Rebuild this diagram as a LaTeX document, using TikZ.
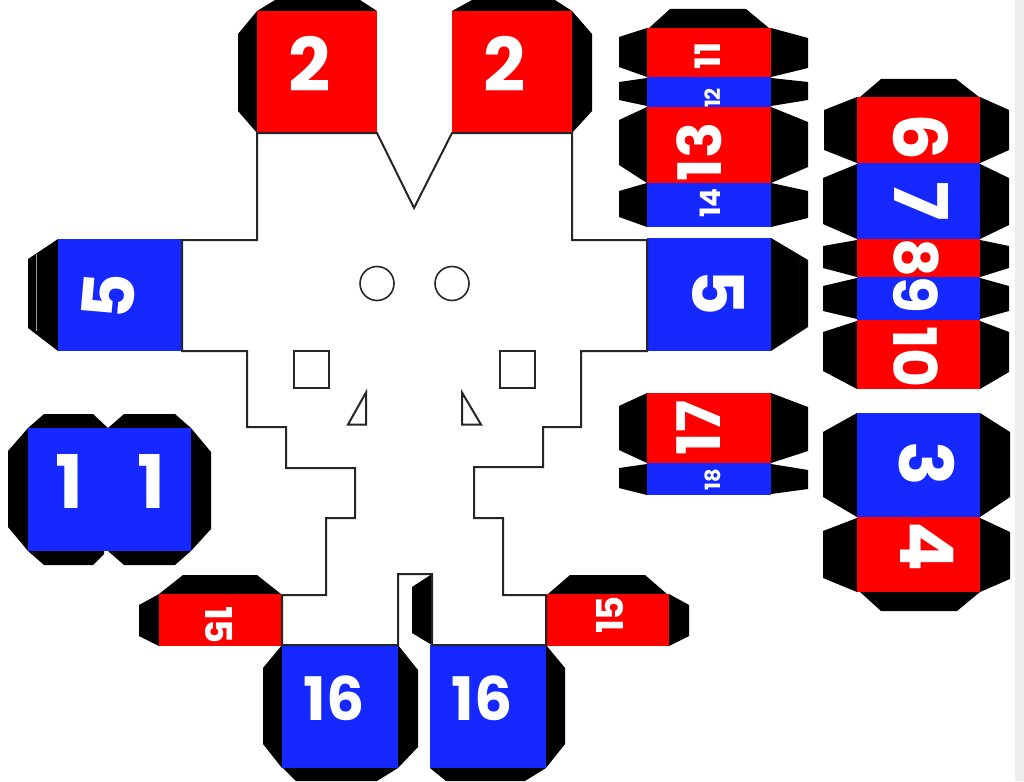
\documentclass[tikz,border=0pt]{standalone}
\usepackage{fontspec}
\setmainfont{Poppins}
\definecolor{pred}{HTML}{FF0000}
\definecolor{pblue}{HTML}{1428FF}
\definecolor{strip}{HTML}{EDEDED}
\tikzset{
  tabshape/.style={fill=black,draw=none},
  redpanel/.style={fill=pred,draw=none},
  bluepanel/.style={fill=pblue,draw=none},
  cutline/.style={draw=black!85,line width=2pt,line join=miter,fill=none},
  holeline/.style={draw=black!85,line width=1.6pt,fill=none},
  lab/.style={text=white,inner sep=0pt,font=\bfseries\fontsize{#1}{#1}\selectfont},
}
\newcommand{\tabpoly}[1]{\fill[tabshape] #1 -- cycle;}
\begin{document}
\begin{tikzpicture}[x=1pt,y=-1pt]
\useasboundingbox (0,0) rectangle (1024,781);
\fill[white] (0,0) rectangle (1024,781);
\fill[strip] (1015,0) rectangle (1024,781);
% ---- tabs
% strip 11-14
\tabpoly{(649,28) -- (670,9) -- (746,9) -- (769,28)}
\tabpoly{(647,28) -- (619,37) -- (619,67) -- (647,77)}
\tabpoly{(771,28) -- (808,38) -- (808,68) -- (771,77)}
\tabpoly{(647,78) -- (619,82) -- (619,100) -- (647,106)}
\tabpoly{(771,78) -- (808,82) -- (808,100) -- (771,106)}
\tabpoly{(647,107) -- (619,120) -- (619,165) -- (647,183)}
\tabpoly{(771,107) -- (808,122) -- (808,167) -- (771,183)}
\tabpoly{(647,183) -- (619,191) -- (619,217) -- (647,227)}
\tabpoly{(771,183) -- (808,191) -- (808,218) -- (771,227)}
% strip 6-10
\tabpoly{(860,97) -- (881,79) -- (956,79) -- (979,97)}
\tabpoly{(857,97) -- (824,110) -- (824,150) -- (857,163)}
\tabpoly{(980,97) -- (1009,110) -- (1009,150) -- (980,163)}
\tabpoly{(857,164) -- (823,178) -- (823,224) -- (857,239)}
\tabpoly{(980,164) -- (1009,178) -- (1009,225) -- (980,239)}
\tabpoly{(857,240) -- (823,246) -- (823,268) -- (857,277)}
\tabpoly{(980,240) -- (1009,246) -- (1009,268) -- (980,277)}
\tabpoly{(857,278) -- (823,286) -- (823,311) -- (857,319)}
\tabpoly{(980,278) -- (1009,286) -- (1009,311) -- (980,319)}
\tabpoly{(857,321) -- (823,332) -- (823,371) -- (857,389)}
\tabpoly{(980,321) -- (1009,332) -- (1009,372) -- (980,389)}
% 5 right, 5 left
\tabpoly{(771,238) -- (808,260) -- (808,327) -- (771,351)}
\tabpoly{(58,239) -- (28,259) -- (28,328) -- (58,351)}
\draw[white!60!black,line width=0.4pt] (36,254) -- (36,331);
\draw[white!18!black,line width=0.4pt] (799,258) -- (799,331) -- (783,343);
% 17-18
\tabpoly{(647,393) -- (619,406) -- (619,450) -- (647,463)}
\tabpoly{(771,393) -- (808,407) -- (808,451) -- (771,463)}
\tabpoly{(647,464) -- (619,468) -- (619,488) -- (647,495)}
\tabpoly{(771,464) -- (808,470) -- (808,489) -- (771,494)}
% 3-4
\tabpoly{(857,413) -- (823,432) -- (823,497) -- (857,517)}
\tabpoly{(980,413) -- (1010,432) -- (1010,497) -- (980,517)}
\tabpoly{(857,518) -- (823,531) -- (823,578) -- (857,592)}
\tabpoly{(980,518) -- (1010,532) -- (1010,579) -- (980,592)}
\tabpoly{(860,592) -- (881,611) -- (957,611) -- (980,592)}
% 1 1
\tabpoly{(28,428) -- (44,414) -- (93,414) -- (108,428)}
\tabpoly{(108,428) -- (124,414) -- (175,414) -- (191,428)}
\tabpoly{(28,428) -- (8,451) -- (8,527) -- (28,551)}
\tabpoly{(191,428) -- (211,452) -- (211,529) -- (191,551)}
\tabpoly{(28,551) -- (44,565) -- (93,565) -- (104,554) -- (104,551)}
\tabpoly{(108,551) -- (124,565) -- (175,565) -- (191,551)}
% 2 2
\tabpoly{(257,11) -- (275,0) -- (360,0) -- (377,11)}
\tabpoly{(257,11) -- (238,34) -- (238,111) -- (257,133)}
\tabpoly{(452,11) -- (472,0) -- (555,0) -- (572,11)}
\tabpoly{(572,11) -- (592,34) -- (592,111) -- (572,133)}
% 15 15
\tabpoly{(159,594) -- (183,575) -- (257,575) -- (281,594)}
\tabpoly{(159,594) -- (139,605) -- (139,636) -- (159,646)}
\tabpoly{(548,594) -- (570,575) -- (645,575) -- (667,594)}
\tabpoly{(669,594) -- (689,605) -- (689,636) -- (669,646)}
% 16 16
\tabpoly{(282,645) -- (263,668) -- (263,744) -- (282,768)}
\tabpoly{(398,645) -- (418,670) -- (418,747) -- (398,768)}
\tabpoly{(283,768) -- (296,781) -- (377,781) -- (398,768)}
\tabpoly{(546,645) -- (565,668) -- (565,744) -- (546,768)}
\tabpoly{(430,768) -- (446,781) -- (525,781) -- (546,768)}
\tabpoly{(432,574) -- (412,587) -- (412,633) -- (432,645)}
% ---- panels
\fill[redpanel] (647,28) rectangle (771,77);
\fill[bluepanel] (647,77) rectangle (771,107);
\node[lab=21,rotate=90] (n12) at (712.5,98) {12};
\fill[redpanel] (647,107) rectangle (771,183);
\fill[bluepanel] (647,183) rectangle (771,227);
\fill[bluepanel] (647,238) rectangle (771,351);
\fill[bluepanel] (58,239) rectangle (182,351);
\fill[redpanel] (857,97) rectangle (980,163);
\fill[bluepanel] (857,163) rectangle (980,239);
\fill[redpanel] (857,239) rectangle (980,277);
\fill[bluepanel] (857,277) rectangle (980,320);
\fill[redpanel] (857,320) rectangle (980,389);
\fill[redpanel] (647,393) rectangle (771,463);
\fill[bluepanel] (647,463) rectangle (771,495);
\fill[bluepanel] (857,413) rectangle (980,517);
\fill[redpanel] (857,517) rectangle (980,592);
\fill[bluepanel] (28,428) rectangle (191,551);
\fill[redpanel] (257,11) rectangle (377,133);
\fill[redpanel] (452,11) rectangle (572,133);
\fill[redpanel] (159,594) rectangle (282,646);
\fill[redpanel] (546,594) rectangle (669,646);
\fill[bluepanel] (282,645) rectangle (398,768);
\fill[bluepanel] (430,645) rectangle (546,768);
% ---- outline of the body
\draw[cutline] (257,133) -- (377,133) -- (414,208) -- (452,133) -- (572,133)
  -- (572,240) -- (647,240) -- (647,351) -- (581,351) -- (581,427) -- (543,427)
  -- (543,467) -- (474,467) -- (474,518) -- (503,518) -- (503,595) -- (546,595)
  -- (546,645) -- (432,645) -- (432,574) -- (398,574) -- (398,645) -- (282,645)
  -- (282,595) -- (326,595) -- (326,518) -- (355,518) -- (355,468) -- (286,468)
  -- (286,427) -- (247,427) -- (247,351) -- (182,351) -- (182,240) -- (257,240) -- cycle;
% ---- holes
\node[holeline,circle,minimum size=34pt,inner sep=0pt] (holeL) at (377,283.5) {};
\node[holeline,circle,minimum size=34pt,inner sep=0pt] (holeR) at (452,283.5) {};
\draw[cutline] (293.5,350.5) rectangle (329,387.5);
\draw[cutline] (500,350.5) rectangle (535,387.5);
\draw[cutline] (348,424.5) -- (366,392.5) -- (366,424.5) -- cycle;
\draw[cutline] (462,392.5) -- (481,424.5) -- (462,424.5) -- cycle;
% ---- numbers
\node[lab=35,rotate=90] (n11) at (708,56) {11};
\node[lab=60,rotate=90] (n13) at (699,152) {13};
\node[lab=28,rotate=90] (n14) at (710,203) {14};
\node[lab=71,rotate=-90] (n5r) at (718,293) {5};
\node[lab=71,rotate=85] (n5l) at (109,296) {5};
\node[lab=74,rotate=-90] (n6) at (921,137.5) {6};
\node[lab=74,rotate=-90] (n7) at (921,201) {7};
\node[lab=60,rotate=-90] (n8) at (916,258) {8};
\node[lab=60,rotate=-90] (n9) at (916,295) {9};
\node[lab=60,rotate=-90] (n10) at (916,357) {10};
\node[lab=60,rotate=90] (n17) at (699,428) {17};
\node[lab=21,rotate=90] (n18) at (712.5,480) {18};
\node[lab=74,rotate=-90] (n3) at (927,464) {3};
\node[lab=74,rotate=-90] (n4) at (927,547) {4};
\node[lab=74] (n1a) at (69,481) {1};
\node[lab=74] (n1b) at (151,481) {1};
\node[lab=74] (n2a) at (310,63.5) {2};
\node[lab=74] (n2b) at (504.5,63.5) {2};
\node[lab=37,rotate=-90] (n15a) at (219,625) {15};
\node[lab=37,rotate=90] (n15b) at (609.5,615) {15};
\node[lab=60] (n16a) at (334,698) {16};
\node[lab=60] (n16b) at (482,698) {16};
\end{tikzpicture}
\end{document}
